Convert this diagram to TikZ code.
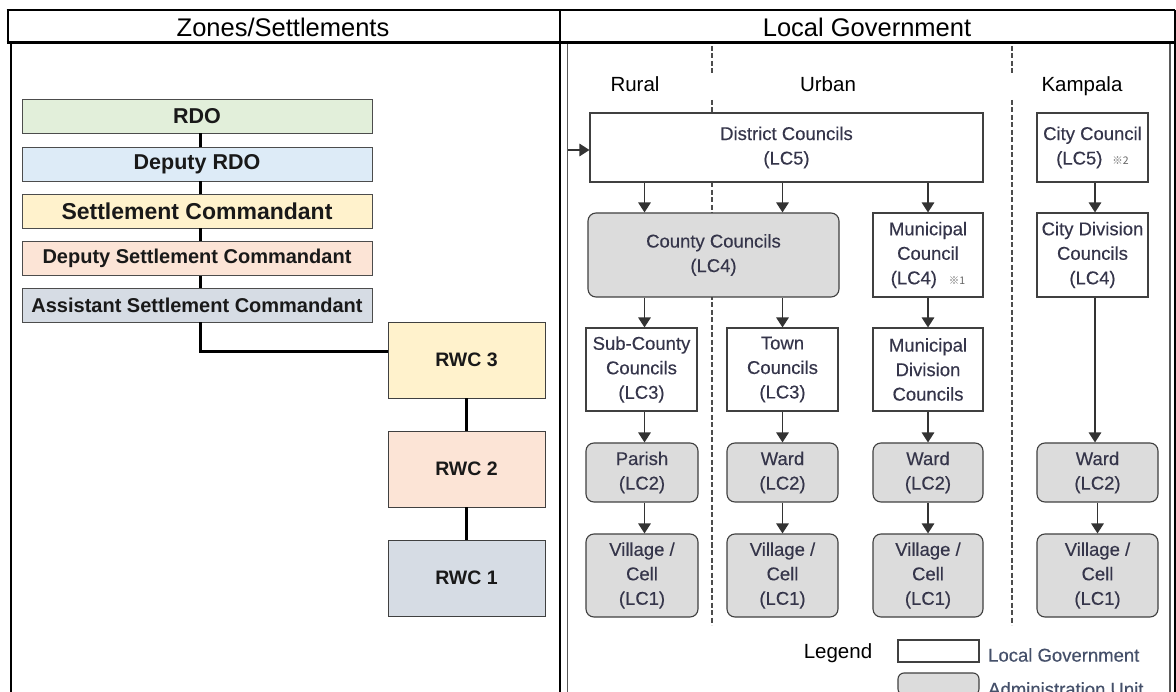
\documentclass[tikz,border=0pt]{standalone}
\usepackage{fontspec}
\setmainfont{Liberation Sans}
\newfontface\panelfont{Liberation Sans}[FakeBold=0.35]
\newfontfamily\refmarkfont{Noto Sans CJK JP}
\usetikzlibrary{arrows.meta}

\definecolor{rdoG}{HTML}{E2EFDA}
\definecolor{depB}{HTML}{DDEBF7}
\definecolor{setY}{HTML}{FFF2CC}
\definecolor{depP}{HTML}{FCE4D6}
\definecolor{asstG}{HTML}{D6DCE4}
\definecolor{admGray}{HTML}{DCDCDC}
\definecolor{panelTxt}{HTML}{35354A}
\definecolor{legTxt}{HTML}{45506A}

\newcommand{\refmark}[1]{{\refmarkfont\fontsize{10.5}{10.5}\selectfont\color{black!60}#1}}

\tikzset{
  zonebox/.style={draw=black!70, line width=0.9pt, minimum width=350pt,
    minimum height=34pt, inner sep=0pt, text=black!90},
  zfont/.style={font=\bfseries\fontsize{#1}{#1}\selectfont},
  rwcbox/.style={draw=black!75, line width=0.9pt, minimum width=157pt,
    minimum height=76pt, inner sep=0pt, text=black!90,
    font=\fontsize{19.5}{20}\selectfont\bfseries},
  linkline/.style={line width=3pt, black},
  panelbox/.style={draw=black!75, line width=1.1pt, fill=white, inner sep=0pt,
    align=center, text=panelTxt, font=\panelfont\fontsize{18.5}{24.5}\selectfont},
  lgbox/.style={panelbox},
  aubox/.style={panelbox, fill=admGray, rounded corners=8pt},
  flowarrow/.style={draw=black!80, line width=1.4pt,
    -{Triangle[width=12.5pt,length=10pt]}},
  colsep/.style={draw=black!70, line width=1.4pt, dash pattern=on 5pt off 2.5pt},
  colhead/.style={font=\fontsize{20.5}{22}\selectfont, inner sep=0pt, anchor=base},
  tabhead/.style={font=\fontsize{25.5}{26}\selectfont, inner sep=0pt},
}

\begin{document}
\begin{tikzpicture}[x=1pt, y=-1pt]
\clip (0,0) rectangle (1176,692);
\fill[white] (0,0) rectangle (1176,692);

% ---- table frame ----
\draw[line width=2pt] (6.5,10) -- (1175,10);
\draw[line width=2pt] (7.5,10) -- (7.5,43);
\draw[line width=2pt] (10.5,43) -- (10.5,693);
\draw[line width=2pt] (1174.5,10) -- (1174.5,693);
\draw[line width=3pt] (6.5,43) -- (1175,43);
\draw[line width=2pt] (560,10) -- (560,693);
\draw[black!65, line width=1.2pt] (567.5,44) -- (567.5,693);
\draw[black!65, line width=1.2pt] (1170,44) -- (1170,693);

\node[tabhead] (hzones) at (283,27) {Zones/Settlements};
\node[tabhead] (hlocal) at (867,27) {Local Government};

% ---- settlement hierarchy ----
\node[zonebox, fill=rdoG, zfont=21.5] (rdo) at (197,116) {RDO};
\node[zonebox, fill=depB, zfont=21.5] (drdo) at (197,164) {Deputy RDO};
\node[zonebox, fill=setY, zfont=23] (sc) at (197,211) {Settlement Commandant};
\node[zonebox, fill=depP, zfont=20] (dsc) at (197,258.5) {Deputy Settlement Commandant};
\node[zonebox, fill=asstG, zfont=20] (asc) at (197,305) {Assistant Settlement Commandant};

\node[rwcbox, fill=setY] (rwc3) at (466.5,360) {RWC 3};
\node[rwcbox, fill=depP] (rwc2) at (466.5,469) {RWC 2};
\node[rwcbox, fill=asstG] (rwc1) at (466.5,578) {RWC 1};

\draw[linkline] ([xshift=3pt]rdo.south) -- ([xshift=3pt]drdo.north);
\draw[linkline] ([xshift=3pt]drdo.south) -- ([xshift=3pt]sc.north);
\draw[linkline] ([xshift=3pt]sc.south) -- ([xshift=3pt]dsc.north);
\draw[linkline] ([xshift=3pt]dsc.south) -- ([xshift=3pt]asc.north);
\draw[linkline] ([xshift=3pt]asc.south) |- ([yshift=8pt]rwc3.west);
\draw[linkline] (rwc3.south) -- (rwc2.north);
\draw[linkline] (rwc2.south) -- (rwc1.north);

% ---- local government structure ----
\draw[colsep] (712,46) -- (712,73);
\draw[colsep] (712,100) -- (712,625);
\draw[colsep] (1012,46) -- (1012,73);
\draw[colsep] (1012,100) -- (1012,625);

\node[colhead] (rural) at (635,92) {Rural};
\node[colhead] (urban) at (828,92) {Urban};
\node[colhead] (kampala) at (1082,92) {Kampala};

\node[lgbox, minimum width=393pt, minimum height=69pt] (district) at (786.5,147.5)
  {District Councils\\(LC5)};
\node[lgbox, minimum width=111pt, minimum height=69pt] (city) at (1092.5,147.5)
  {City Council\\(LC5)\hspace{10pt}\refmark{※2}};

\node[aubox, minimum width=251pt, minimum height=84pt] (county) at (713.5,255)
  {County Councils\\(LC4)};
\node[lgbox, minimum width=110pt, minimum height=84pt] (muni) at (928,255)
  {Municipal\\Council\\(LC4)\hspace{12pt}\refmark{※1}};
\node[lgbox, minimum width=111pt, minimum height=84pt] (citydiv) at (1092.5,255)
  {City Division\\Councils\\(LC4)};

\node[lgbox, minimum width=111pt, minimum height=83pt] (subcounty) at (641.5,369.5)
  {Sub-County\\Councils\\(LC3)};
\node[lgbox, minimum width=111pt, minimum height=83pt] (town) at (782.5,369.5)
  {Town\\Councils\\(LC3)};
\node[lgbox, minimum width=110pt, minimum height=83pt] (munidiv) at (928,369.5)
  {Municipal\\Division\\Councils};

\node[aubox, minimum width=112pt, minimum height=59pt] (parish) at (642,472.5)
  {Parish\\(LC2)};
\node[aubox, minimum width=111pt, minimum height=59pt] (wardT) at (782.5,472.5)
  {Ward\\(LC2)};
\node[aubox, minimum width=110pt, minimum height=59pt] (wardM) at (928,472.5)
  {Ward\\(LC2)};
\node[aubox, minimum width=121pt, minimum height=59pt] (wardK) at (1097.5,472.5)
  {Ward\\(LC2)};

\node[aubox, minimum width=112pt, minimum height=83pt] (villR) at (642,575.5)
  {Village /\\Cell\\(LC1)};
\node[aubox, minimum width=111pt, minimum height=83pt] (villT) at (782.5,575.5)
  {Village /\\Cell\\(LC1)};
\node[aubox, minimum width=110pt, minimum height=83pt] (villM) at (928,575.5)
  {Village /\\Cell\\(LC1)};
\node[aubox, minimum width=121pt, minimum height=83pt] (villK) at (1097.5,575.5)
  {Village /\\Cell\\(LC1)};

% inflow from the left edge
\coordinate (inlet) at (567.5,150);
\draw[flowarrow] (inlet) -- (inlet -| district.west);

% rural column
\draw[flowarrow] ([xshift=3pt]district.south -| subcounty.north) -- ([xshift=3pt]county.north -| subcounty.north);
\draw[flowarrow] ([xshift=3pt]county.south -| subcounty.north) -- ([xshift=3pt]subcounty.north);
\draw[flowarrow] ([xshift=3pt]subcounty.south) -- ([xshift=3pt]parish.north -| subcounty.south);
\draw[flowarrow] ([xshift=3pt]parish.south -| subcounty.south) -- ([xshift=3pt]villR.north -| subcounty.south);
% urban column
\draw[flowarrow] (district.south -| town.north) -- (county.north -| town.north);
\draw[flowarrow] (county.south -| town.north) -- (town.north);
\draw[flowarrow] (town.south) -- (wardT.north);
\draw[flowarrow] (wardT.south) -- (villT.north);
% municipal column
\draw[flowarrow] (district.south -| muni.north) -- (muni.north);
\draw[flowarrow] (muni.south) -- (munidiv.north);
\draw[flowarrow] (munidiv.south) -- (wardM.north);
\draw[flowarrow] (wardM.south) -- (villM.north);
% kampala column
\draw[flowarrow] ([xshift=2.5pt]city.south) -- ([xshift=2.5pt]citydiv.north);
\draw[flowarrow] ([xshift=2.5pt]citydiv.south) -- ([xshift=2.5pt]wardK.north -| citydiv.south);
\draw[flowarrow] (wardK.south) -- (villK.north);

% legend
\node[colhead] (legend) at (838,658) {Legend};
\node[lgbox, minimum width=81pt, minimum height=22pt] (legLG) at (938.5,651) {};
\node[aubox, rounded corners=6pt, minimum width=81pt, minimum height=22pt] (legAU) at (938.5,684) {};
\node[anchor=west, inner sep=0pt, text=legTxt, font=\panelfont\fontsize{18.5}{20}\selectfont]
  (legLGtxt) at (988,655) {Local Government};
\node[anchor=west, inner sep=0pt, text=legTxt, font=\panelfont\fontsize{18.5}{20}\selectfont]
  (legAUtxt) at (988,689) {Administration Unit};
\end{tikzpicture}
\end{document}
